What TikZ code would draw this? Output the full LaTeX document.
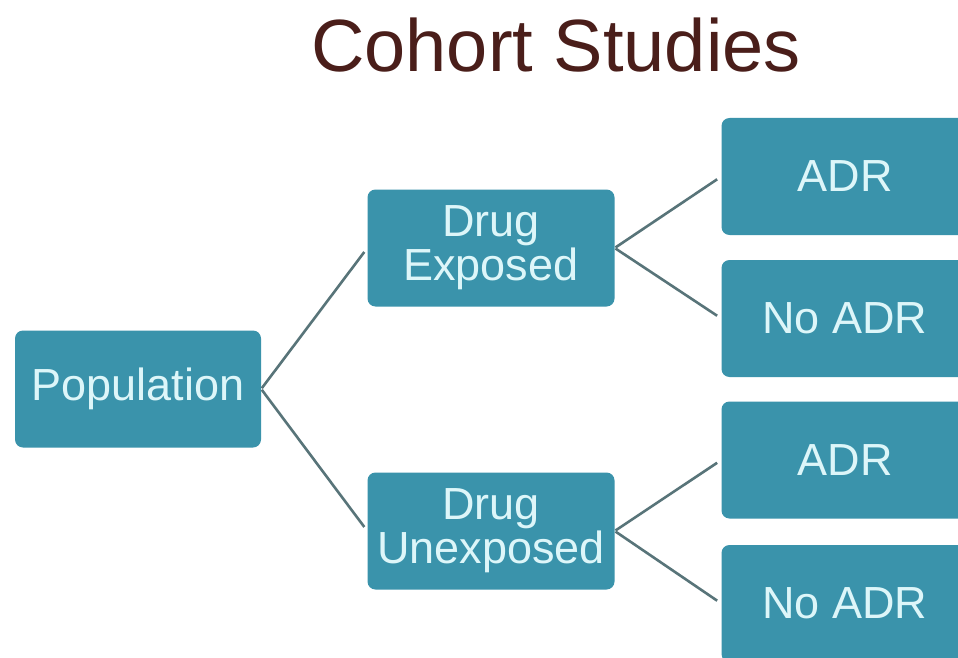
\documentclass[tikz,border=0pt]{standalone}
\usepackage{fontspec}
\setmainfont{Liberation Sans}
\definecolor{boxfill}{HTML}{3A93AB}
\definecolor{boxtext}{HTML}{DDF6F9}
\definecolor{titlecol}{HTML}{4A1E1A}
\definecolor{linecol}{HTML}{587479}
\begin{document}
\begin{tikzpicture}[x=1pt,y=-1pt,
  cbox/.style={rectangle, rounded corners=8pt, fill=boxfill, text=boxtext,
    minimum width=247pt, minimum height=117pt, inner sep=0pt, align=center,
    font=\fontsize{45}{44}\selectfont},
  conn/.style={draw=linecol, line width=2.6pt, shorten >=5pt, shorten <=1pt}]
\useasboundingbox (0,0) rectangle (958,658);
\clip (0,0) rectangle (958,658);
\fill[white] (0,0) rectangle (958,658);
\node[font=\fontsize{74}{80}\selectfont, text=titlecol, anchor=base] (title) at (556,72) {Cohort Studies};
\node[cbox, minimum width=246pt, minimum height=117pt] (pop) at (138,389) {Population};
\node[cbox] (de) at (491,248) {Drug\\Exposed};
\node[cbox] (du) at (491,531) {Drug\\Unexposed};
\node[cbox] (a1) at (845,176.5) {ADR};
\node[cbox] (n1) at (845,318.5) {No ADR};
\node[cbox] (a2) at (845,460) {ADR};
\node[cbox] (n2) at (845,603.5) {No ADR};
\draw[conn] (pop.east) -- (de.west);
\draw[conn] (pop.east) -- (du.west);
\draw[conn] (de.east) -- (a1.west);
\draw[conn] (de.east) -- (n1.west);
\draw[conn] (du.east) -- (a2.west);
\draw[conn] (du.east) -- (n2.west);
\end{tikzpicture}
\end{document}
